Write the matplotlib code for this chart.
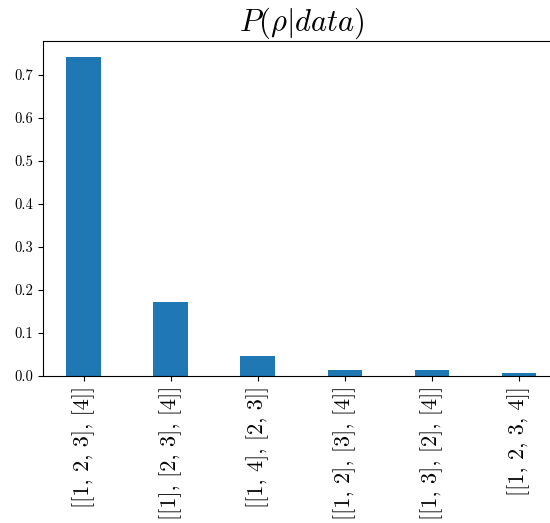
import numpy as np
import matplotlib
matplotlib.use("Agg")
import matplotlib.pyplot as plt

plt.rcParams['font.family'] = 'cmr10'
plt.rcParams['mathtext.fontset'] = 'cm'
plt.rcParams['axes.formatter.use_mathtext'] = True

# partitions and their posterior probabilities
labels = ["[[1, 2, 3], [4]]", "[[1], [2, 3], [4]]", "[[1, 4], [2, 3]]",
          "[[1, 2], [3], [4]]", "[[1, 3], [2], [4]]", "[[1, 2, 3, 4]]"]
probs = [0.742, 0.172, 0.046, 0.013, 0.013, 0.006]

fig = plt.figure(figsize=(5.5, 5.23), dpi=100)
ax = fig.add_axes([0.078, 0.281, 0.94, 0.6406])
x = np.arange(len(labels))
ax.bar(x, probs, width=0.4, color="#1f77b4")
ax.set_xticks(x)
ax.set_xticklabels(labels, rotation=90, fontsize=16)
ax.set_yticks(np.arange(0, 0.8, 0.1))
ax.set_yticklabels(["%.1f" % v for v in np.arange(0, 0.8, 0.1)], fontsize=10.5)
ax.set_title(r"$P(\rho|data)$", fontsize=22)

fig.savefig("out.png", dpi=100)
